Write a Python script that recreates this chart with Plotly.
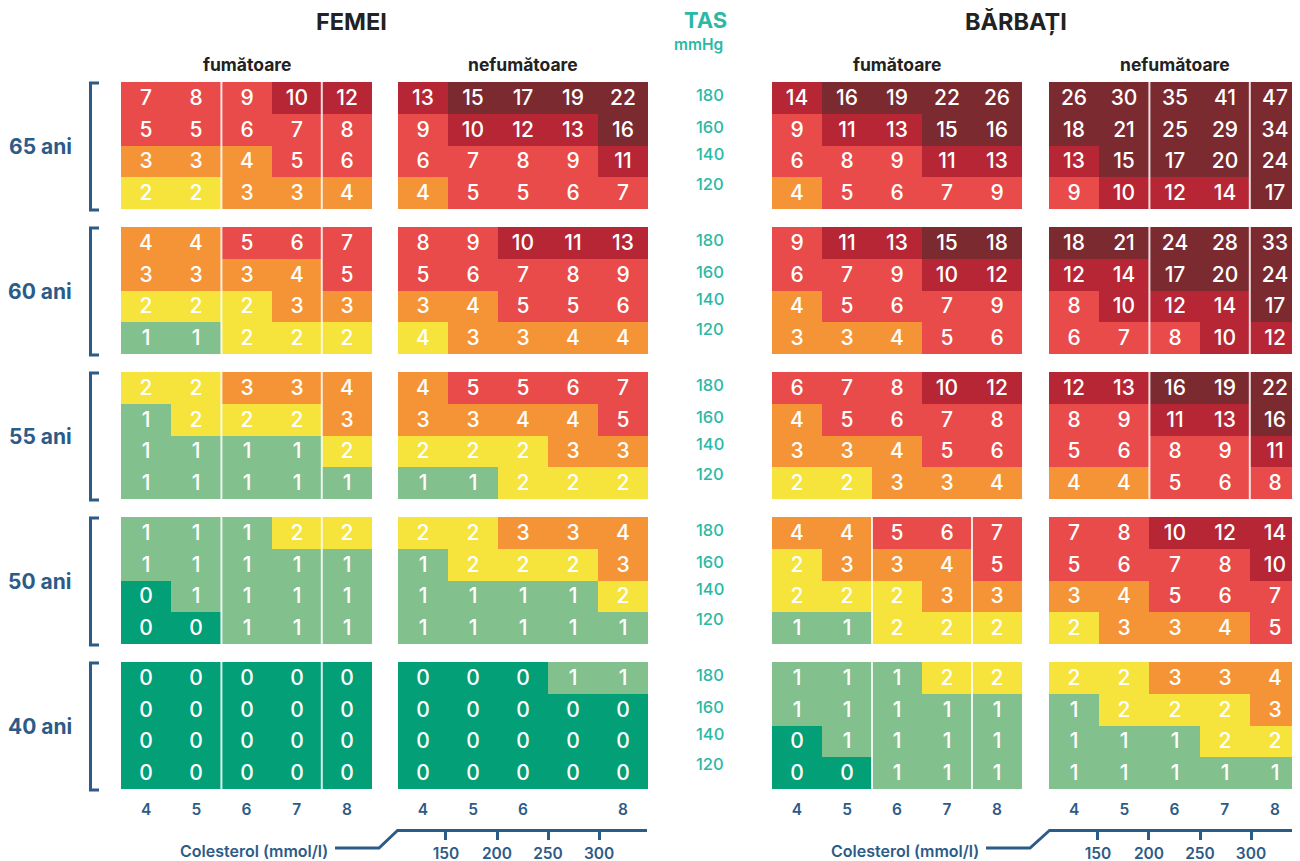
import plotly.graph_objects as go

W, H = 1300, 861
OFF = 8  # page offset of the plot div

# ---------------- DATA ----------------
ages = ["65 ani", "60 ani", "55 ani", "50 ani", "40 ani"]
sbp_rows = [180, 160, 140, 120]          # TAS (mmHg), top to bottom
chol_mmol = [4, 5, 6, 7, 8]              # Colesterol (mmol/l)
chol_mgdl_ticks = [150, 200, 250, 300]   # Colesterol (mg/dl)

women_smoker = [
    [[7, 8, 9, 10, 12], [5, 5, 6, 7, 8], [3, 3, 4, 5, 6], [2, 2, 3, 3, 4]],
    [[4, 4, 5, 6, 7], [3, 3, 3, 4, 5], [2, 2, 2, 3, 3], [1, 1, 2, 2, 2]],
    [[2, 2, 3, 3, 4], [1, 2, 2, 2, 3], [1, 1, 1, 1, 2], [1, 1, 1, 1, 1]],
    [[1, 1, 1, 2, 2], [1, 1, 1, 1, 1], [0, 1, 1, 1, 1], [0, 0, 1, 1, 1]],
    [[0, 0, 0, 0, 0], [0, 0, 0, 0, 0], [0, 0, 0, 0, 0], [0, 0, 0, 0, 0]],
]
women_nonsmoker = [
    [[13, 15, 17, 19, 22], [9, 10, 12, 13, 16], [6, 7, 8, 9, 11], [4, 5, 5, 6, 7]],
    [[8, 9, 10, 11, 13], [5, 6, 7, 8, 9], [3, 4, 5, 5, 6], [4, 3, 3, 4, 4]],
    [[4, 5, 5, 6, 7], [3, 3, 4, 4, 5], [2, 2, 2, 3, 3], [1, 1, 2, 2, 2]],
    [[2, 2, 3, 3, 4], [1, 2, 2, 2, 3], [1, 1, 1, 1, 2], [1, 1, 1, 1, 1]],
    [[0, 0, 0, 1, 1], [0, 0, 0, 0, 0], [0, 0, 0, 0, 0], [0, 0, 0, 0, 0]],
]
men_smoker = [
    [[14, 16, 19, 22, 26], [9, 11, 13, 15, 16], [6, 8, 9, 11, 13], [4, 5, 6, 7, 9]],
    [[9, 11, 13, 15, 18], [6, 7, 9, 10, 12], [4, 5, 6, 7, 9], [3, 3, 4, 5, 6]],
    [[6, 7, 8, 10, 12], [4, 5, 6, 7, 8], [3, 3, 4, 5, 6], [2, 2, 3, 3, 4]],
    [[4, 4, 5, 6, 7], [2, 3, 3, 4, 5], [2, 2, 2, 3, 3], [1, 1, 2, 2, 2]],
    [[1, 1, 1, 2, 2], [1, 1, 1, 1, 1], [0, 1, 1, 1, 1], [0, 0, 1, 1, 1]],
]
men_nonsmoker = [
    [[26, 30, 35, 41, 47], [18, 21, 25, 29, 34], [13, 15, 17, 20, 24], [9, 10, 12, 14, 17]],
    [[18, 21, 24, 28, 33], [12, 14, 17, 20, 24], [8, 10, 12, 14, 17], [6, 7, 8, 10, 12]],
    [[12, 13, 16, 19, 22], [8, 9, 11, 13, 16], [5, 6, 8, 9, 11], [4, 4, 5, 6, 8]],
    [[7, 8, 10, 12, 14], [5, 6, 7, 8, 10], [3, 4, 5, 6, 7], [2, 3, 3, 4, 5]],
    [[2, 2, 3, 3, 4], [1, 2, 2, 2, 3], [1, 1, 1, 2, 2], [1, 1, 1, 1, 1]],
]

# risk class lower bounds -> colour
risk_bounds = [0, 1, 2, 3, 5, 10, 15]
risk_colors = ["#03a077", "#82c18e", "#f6e43c", "#f59436", "#e94b4b", "#b72634", "#7b2a30"]
# colour overrides as printed: (panel, age index, row index, col index) -> class
color_overrides = {(1, 1, 3, 0): 2}

panels = [women_smoker, women_nonsmoker, men_smoker, men_nonsmoker]
panel_titles = ["fumătoare", "nefumătoare", "fumătoare", "nefumătoare"]
bottom_labels = [["4", "5", "6", "7", "8"], ["4", "5", "6", "", "8"],
                 ["4", "5", "6", "7", "8"], ["4", "5", "6", "7", "8"]]
# panels/age rows where a white divider is printed
divider_panels = {0: [0, 1, 2, 3, 4], 2: [3, 4], 3: [0, 1, 2]}

# ---------------- LAYOUT GEOMETRY (screen pixels) ----------------
panel_x = [(121, 372), (398, 648), (772, 1022), (1049, 1300)]
row_top = [82, 227, 372, 517, 662]
row_h = 127
BLUE = "#2d5b88"
TEAL = "#2bb9a6"
DARK = "#222222"
FONT = "Inter"


def px(x):
    return (x - OFF) / W


def py(y):
    return 1 - (y - OFF) / H


def aid(k):
    return "" if k == 1 else str(k)


def level(v):
    lv = 0
    for i, b in enumerate(risk_bounds):
        if v >= b:
            lv = i
    return lv


n = len(risk_colors)
colorscale = []
for i, c in enumerate(risk_colors):
    colorscale.append([i / n, c])
    colorscale.append([(i + 1) / n, c])

fig = go.Figure()
layout = dict(width=W, height=H, margin=dict(l=0, r=0, t=0, b=0),
              paper_bgcolor="white", plot_bgcolor="white", showlegend=False,
              font=dict(family=FONT))
shapes = []
annotations = []

k = 0
for p, data in enumerate(panels):
    for a, grid in enumerate(data):
        k += 1
        s = aid(k)
        z = []
        for r, row in enumerate(grid):
            zr = []
            for c, v in enumerate(row):
                zr.append(color_overrides.get((p, a, r, c), level(v)))
            z.append(zr)
        fig.add_trace(go.Heatmap(
            x=chol_mmol, y=sbp_rows, z=z, text=grid, texttemplate="%{text}",
            textfont=dict(family=FONT, size=21, color="white", weight=500),
            colorscale=colorscale, zmin=-0.5, zmax=n - 0.5, showscale=False,
            hoverinfo="skip", xaxis=f"x{s}", yaxis=f"y{s}"))
        x0, x1 = panel_x[p]
        y0 = row_top[a]
        bottom = a == len(data) - 1
        layout[f"xaxis{s}"] = dict(
            domain=[px(x0), min(1, px(x1))], range=[3.5, 8.5], anchor=f"y{s}",
            showgrid=False, zeroline=False, showline=False,
            showticklabels=bottom, visible=bottom,
            tickvals=chol_mmol, ticktext=bottom_labels[p],
            ticks="outside" if bottom else "", ticklen=6, tickcolor="rgba(0,0,0,0)",
            tickfont=dict(family=FONT, size=15.5, color=BLUE, weight=600), fixedrange=True)
        layout[f"yaxis{s}"] = dict(
            domain=[py(y0 + row_h), py(y0)], range=[110, 190], anchor=f"x{s}",
            visible=False, showgrid=False, zeroline=False, fixedrange=True)
        if a in divider_panels.get(p, []):
            for xb in (5.5, 7.5):
                shapes.append(dict(type="line", xref=f"x{s}", yref=f"y{s} domain",
                                   x0=xb, x1=xb, y0=0, y1=1,
                                   line=dict(color="rgba(255,255,255,0.85)", width=2)))

# TAS labels next to the rows (use men smoker panels' y axes)
tas_shift = [3, 3, 7, 9]
for a in range(len(ages)):
    k = 2 * len(ages) + a + 1
    for i, sv in enumerate(sbp_rows):
        annotations.append(dict(text=str(sv), xref="paper", yref=f"y{aid(k)}", x=px(710), y=sv,
                                yshift=tas_shift[i],
                                font=dict(family=FONT, size=16.5, color=TEAL, weight=500)))

# Age labels and brackets
for a, lab in enumerate(ages):
    yc = row_top[a] + row_h / 2
    annotations.append(dict(text=lab, x=px(40), y=py(yc + 1),
                            font=dict(family=FONT, size=21, color=BLUE, weight=700)))
    t, b = row_top[a] + 1, row_top[a] + row_h + 1
    shapes.append(dict(type="path", xref="paper", yref="paper",
                       path=f"M {px(99)},{py(t)} L {px(90.5)},{py(t)} L {px(90.5)},{py(b)} L {px(99)},{py(b)}",
                       line=dict(color=BLUE, width=3)))

# Titles
annotations += [
    dict(text="FEMEI", x=px(351), y=py(22), font=dict(family=FONT, size=23.5, color=DARK, weight=700)),
    dict(text="BĂRBAȚI", x=px(1016), y=py(22), font=dict(family=FONT, size=23.5, color=DARK, weight=700)),
    dict(text="TAS", x=px(705), y=py(20.5), font=dict(family=FONT, size=22, color=TEAL, weight=700),
         borderpad=0),
    dict(text="mmHg", x=px(698), y=py(45), font=dict(family=FONT, size=15.5, color=TEAL, weight=600)),
]
for p, t in enumerate(panel_titles):
    xc = (panel_x[p][0] + panel_x[p][1]) / 2
    annotations.append(dict(text=t, x=px(xc), y=py(64),
                            font=dict(family=FONT, size=17.5, color=DARK, weight=700)))

# Cholesterol mg/dl axes (women non-smokers, men non-smokers)
mg_axes = [((397, 647), (102, 347), 254, (335, 379)), ((1049, 1300), (102, 348), 905, (986, 1030))]
for j, (dom, rng, txt_x, low) in enumerate(mg_axes):
    kk = 21 + j
    fig.add_trace(go.Scatter(x=chol_mgdl_ticks, y=[0] * len(chol_mgdl_ticks), mode="markers",
                             marker=dict(opacity=0), hoverinfo="skip",
                             xaxis=f"x{kk}", yaxis=f"y{kk}"))
    layout[f"xaxis{kk}"] = dict(domain=[px(dom[0]), min(1, px(dom[1]))], range=list(rng),
                                anchor="free", position=py(830), showgrid=False, zeroline=False,
                                showline=True, linecolor=BLUE, linewidth=3,
                                ticks="outside", ticklen=8, tickwidth=3, tickcolor=BLUE,
                                tickvals=chol_mgdl_ticks,
                                tickfont=dict(family=FONT, size=15.5, color=BLUE, weight=600),
                                fixedrange=True)
    layout[f"yaxis{kk}"] = dict(domain=[0, 0.01], anchor=f"x{kk}", visible=False, fixedrange=True)
    shapes.append(dict(type="path", xref="paper", yref="paper",
                       path=f"M {px(low[0])},{py(848)} L {px(low[1])},{py(848)} L {px(dom[0] + 1)},{py(830)}",
                       line=dict(color=BLUE, width=3)))
    annotations.append(dict(text="Colesterol (mmol/l)", x=px(txt_x), y=py(851),
                            font=dict(family=FONT, size=16, color=BLUE, weight=600)))

for an in annotations:
    an.setdefault("xref", "paper")
    an.setdefault("yref", "paper")
    an.setdefault("showarrow", False)
    an.setdefault("xanchor", "center")
    an.setdefault("yanchor", "middle")

layout["shapes"] = shapes
layout["annotations"] = annotations
fig.update_layout(**layout)
fig.write_html("out.html")
